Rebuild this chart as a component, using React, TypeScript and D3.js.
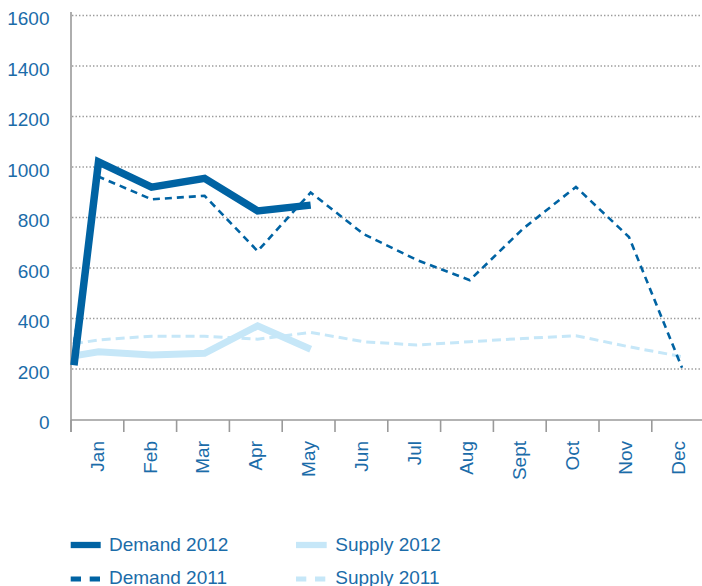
import React from "react";
import * as d3 from "d3";

const months = ["Jan", "Feb", "Mar", "Apr", "May", "Jun", "Jul", "Aug", "Sept", "Oct", "Nov", "Dec"];
const yTicks = [0, 200, 400, 600, 800, 1000, 1200, 1400, 1600];

// value at the left edge of the plot, then monthly values
const demand2012Start = 215;
const demand2012 = [1020, 920, 955, 826, 849];
const demand2011Start = 300;
const demand2011 = [962, 872, 886, 667, 899, 734, 632, 552, 755, 921, 723, 205];
const supply2012Start = 252;
const supply2012 = [268, 255, 262, 371, 278];
const supply2011Start = 300;
const supply2011 = [315, 330, 330, 318, 345, 308, 295, 308, 321, 332, 288, 249];

const W = 702;
const H = 586;
const DARK = "#0063a3";
const LIGHT = "#c6e7f8";
const TEXT = "#1b6ca9";
const AXIS = "#9a9a9a";
const FONT = "'Liberation Sans', Arial, Helvetica, sans-serif";
const FS = 19;

export default function App() {
  const plotLeft = 71;
  const band = 52.8;
  const xBand = d3.scaleBand<string>().domain(months).range([plotLeft, plotLeft + band * 12]);
  const xPt = d3.scaleLinear().domain([0, 11]).range([98.5, 682]);
  const xStart = 74;
  const y = d3.scaleLinear().domain([0, 1600]).range([419.5, 15.5]);

  type P = [number, number];
  const series = (start: number, vals: number[]): P[] => [
    [xStart, y(start)],
    ...vals.map((v, i) => [xPt(i), y(v)] as P),
  ];
  const line = d3.line<P>().x((d) => d[0]).y((d) => d[1]);

  const tickXs = d3.range(13).map((i) => plotLeft + band * i);

  return (
    <svg
      width={W}
      height={H}
      viewBox={`0 0 ${W} ${H}`}
      style={{ position: "absolute", left: 0, top: 0, background: "#fff" }}
      fontFamily={FONT}
    >
      {/* gridlines */}
      {yTicks.filter((t) => t > 0).map((t) => (
        <line
          key={t}
          x1={plotLeft + 1}
          x2={W}
          y1={y(t)}
          y2={y(t)}
          stroke={AXIS}
          strokeWidth={1.3}
          strokeDasharray="1.4,2.1"
        />
      ))}
      {/* y labels */}
      {yTicks.map((t) => (
        <text key={t} x={49.5} y={y(t) + 9.5} textAnchor="end" fontSize={FS} fill={TEXT}>
          {t}
        </text>
      ))}
      {/* axes */}
      <line x1={plotLeft} x2={plotLeft} y1={12} y2={432} stroke={AXIS} strokeWidth={1.6} />
      <line x1={plotLeft} x2={W} y1={420} y2={420} stroke={AXIS} strokeWidth={1.6} />
      {tickXs.map((tx, i) => (
        <line key={i} x1={tx} x2={tx} y1={420} y2={432} stroke={AXIS} strokeWidth={1.6} />
      ))}
      {/* x labels */}
      {months.map((m) => {
        const cx = (xBand(m) as number) + xBand.bandwidth() / 2 - 0.5;
        return (
          <text
            key={m}
            transform={`translate(${cx},441) rotate(-90)`}
            textAnchor="end"
            dy="0.36em"
            fontSize={FS}
            fill={TEXT}
          >
            {m}
          </text>
        );
      })}
      {/* series */}
      <path
        d={line(series(supply2011Start, supply2011)) || ""}
        fill="none"
        stroke={LIGHT}
        strokeWidth={3}
        strokeDasharray="9,5"
      />
      <path
        d={line(series(supply2012Start, supply2012)) || ""}
        fill="none"
        stroke={LIGHT}
        strokeWidth={7}
        strokeLinejoin="miter"
      />
      <path
        d={line(series(demand2011Start, demand2011)) || ""}
        fill="none"
        stroke={DARK}
        strokeWidth={2.6}
        strokeDasharray="7,5"
      />
      <path
        d={line(series(demand2012Start, demand2012)) || ""}
        fill="none"
        stroke={DARK}
        strokeWidth={7.5}
        strokeLinejoin="miter"
        strokeMiterlimit={10}
      />
      {/* legend */}
      <g>
        <line x1={70.7} x2={100.7} y1={545} y2={545} stroke={DARK} strokeWidth={6.3} />
        <text x={109} y={551.3} fontSize={FS} fill={TEXT}>Demand 2012</text>
        <line x1={296} x2={326.7} y1={545} y2={545} stroke={LIGHT} strokeWidth={6.3} />
        <text x={335.3} y={551.3} fontSize={FS} fill={TEXT}>Supply 2012</text>
        <line x1={70.7} x2={100.7} y1={579} y2={579} stroke={DARK} strokeWidth={5} strokeDasharray="10.3,8.7" />
        <text x={109} y={584.3} fontSize={FS} fill={TEXT}>Demand 2011</text>
        <line x1={296} x2={326.7} y1={579} y2={579} stroke={LIGHT} strokeWidth={5} strokeDasharray="10.3,8.7" />
        <text x={335.3} y={584.3} fontSize={FS} fill={TEXT}>Supply 2011</text>
      </g>
    </svg>
  );
}
